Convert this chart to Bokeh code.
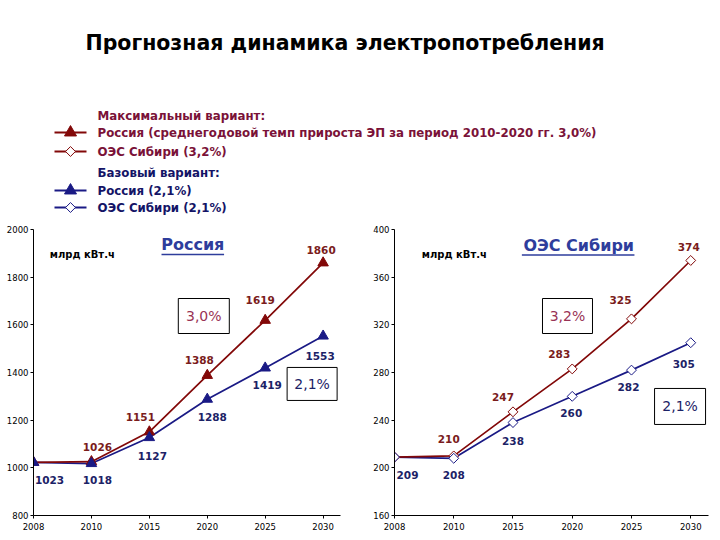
from bokeh.plotting import figure
from bokeh.models import Range1d, FixedTicker, ColumnDataSource
from bokeh.layouts import column, row
from bokeh.core.properties import value
from bokeh.embed import file_html
from bokeh.resources import INLINE

# ---------------- data ----------------
years = [2008, 2010, 2015, 2020, 2025, 2030]
rus_max = [1023, 1026, 1151, 1388, 1619, 1860]
rus_base = [1023, 1018, 1127, 1288, 1419, 1553]
sib_max = [209, 210, 247, 283, 325, 374]
sib_base = [209, 208, 238, 260, 282, 305]
rus_ticks = [800, 1000, 1200, 1400, 1600, 1800, 2000]
sib_ticks = [160, 200, 240, 280, 320, 360, 400]

title_text = "Прогнозная динамика электропотребления"
legend_max_head = "Максимальный вариант:"
legend_max_rus = "Россия (среднегодовой темп прироста ЭП за период 2010-2020 гг. 3,0%)"
legend_max_sib = "ОЭС Сибири (3,2%)"
legend_base_head = "Базовый вариант:"
legend_base_rus = "Россия (2,1%)"
legend_base_sib = "ОЭС Сибири (2,1%)"
unit_text = "млрд кВт.ч"
rus_title = "Россия"
sib_title = "ОЭС Сибири"
rus_max_rate = "3,0%"
rus_base_rate = "2,1%"
sib_max_rate = "3,2%"
sib_base_rate = "2,1%"

# ---------------- styles ----------------
RED = "#820808"
NAVY = "#1A1A85"
RED_TXT = "#7A1C1C"
NAVY_TXT = "#1C2266"
LEG_RED = "#7A1238"
LEG_NAVY = "#141466"
TITLE_BLUE = "#2E3D9C"
RATE_RED = "#993355"
FONT = value("DejaVu Sans")

# ---------------- header figure ----------------
top = figure(width=720, height=222, x_range=Range1d(0, 720), y_range=Range1d(222, 0),
             output_backend="svg", toolbar_location=None,
             x_axis_location=None, y_axis_location=None,
             min_border=0, outline_line_color=None)
top.grid.visible = False

top.text(x=[85], y=[42], text=[title_text], text_font=FONT, text_font_style="bold",
         text_font_size="20.5px", text_baseline="middle", text_align="left", text_color="black")

leg_text_x = 97
rows = [
    (115, legend_max_head, LEG_RED, None, None),
    (132, legend_max_rus, LEG_RED, "triangle", RED),
    (151, legend_max_sib, LEG_RED, "diamond", RED),
    (172, legend_base_head, LEG_NAVY, None, None),
    (190, legend_base_rus, LEG_NAVY, "triangle", NAVY),
    (207, legend_base_sib, LEG_NAVY, "diamond", NAVY),
]
for yy, txt, tcol, mk, lcol in rows:
    top.text(x=[leg_text_x], y=[yy], text=[txt], text_font=FONT, text_font_style="bold",
             text_font_size="11.8px", text_baseline="middle", text_align="left", text_color=tcol)
    if mk is not None:
        top.segment(x0=[54], y0=[yy], x1=[86], y1=[yy], line_color=lcol, line_width=2)
        if mk == "triangle":
            top.scatter(x=[70], y=[yy], marker="triangle", size=12, fill_color=lcol, line_color=lcol)
        else:
            top.scatter(x=[70], y=[yy], marker="square", angle=0.785, size=7,
                        fill_color="white", line_color=lcol, line_width=1)


def make_chart(width, border_left, border_right, xmax, ymin, ymax, ticks,
               s_max, s_base, marker, max_off, base_off,
               title, title_xy, underline, unit_xy, boxes):
    p = figure(width=width, height=318, x_range=Range1d(0, xmax), y_range=Range1d(ymin, ymax),
               output_backend="svg", toolbar_location=None,
               min_border_left=border_left, min_border_right=border_right,
               min_border_top=7, min_border_bottom=25, outline_line_color=None)
    p.grid.visible = False
    for ax in (p.xaxis[0], p.yaxis[0]):
        ax.axis_line_color = "black"
        ax.major_tick_line_color = "black"
        ax.major_tick_out = 3
        ax.major_tick_in = 0
        ax.minor_tick_line_color = None
        ax.major_label_text_font = "DejaVu Sans"
        ax.major_label_text_font_size = "8.5px"
        ax.major_label_text_color = "black"
        ax.major_label_standoff = 2
    p.xaxis[0].major_label_standoff = 4
    idx = list(range(len(years)))
    p.xaxis[0].ticker = FixedTicker(ticks=idx)
    p.xaxis[0].major_label_overrides = {i: str(y) for i, y in zip(idx, years)}
    p.yaxis[0].ticker = FixedTicker(ticks=ticks)

    p.line(idx, s_base, line_color=NAVY, line_width=1.7)
    p.line(idx, s_max, line_color=RED, line_width=1.7)
    if marker == "triangle":
        p.scatter(idx, s_max, marker="triangle", size=10.5, fill_color=RED, line_color=RED)
        p.scatter(idx, s_base, marker="triangle", size=10.5, fill_color=NAVY, line_color=NAVY)
    else:
        p.scatter(idx, s_max, marker="square", angle=0.785, size=7, fill_color="white",
                  line_color=RED, line_width=1)
        p.scatter(idx, s_base, marker="square", angle=0.785, size=7, fill_color="white",
                  line_color=NAVY, line_width=1)

    # value labels
    src_max = ColumnDataSource(dict(x=idx[1:], y=s_max[1:], t=[str(v) for v in s_max[1:]],
                                    dx=[o[0] for o in max_off], dy=[o[1] for o in max_off]))
    src_base = ColumnDataSource(dict(x=idx, y=s_base, t=[str(v) for v in s_base],
                                     dx=[o[0] for o in base_off], dy=[o[1] for o in base_off]))
    for src, col in ((src_max, RED_TXT), (src_base, NAVY_TXT)):
        p.text(x="x", y="y", text="t", x_offset="dx", y_offset="dy", source=src,
               text_font=FONT, text_font_style="bold", text_font_size="10.5px",
               text_color=col, text_align="center", text_baseline="middle")

    # chart title with underline
    p.text(x=[title_xy[0]], y=[title_xy[1]], text=[title], text_font=FONT, text_font_style="bold",
           text_font_size="16px", text_color=TITLE_BLUE, text_align="center", text_baseline="middle")
    p.segment(x0=[underline[0]], x1=[underline[1]], y0=[underline[2]], y1=[underline[2]],
              line_color=TITLE_BLUE, line_width=1.5)
    p.text(x=[unit_xy[0]], y=[unit_xy[1]], text=[unit_text], text_font=FONT, text_font_style="bold",
           text_font_size="10px", text_color="black", text_align="left", text_baseline="middle")

    # rate boxes
    for bx, by, bw, bh, txt, col in boxes:
        p.rect(x=[bx], y=[by], width=bw, height=bh, width_units="screen", height_units="screen",
               fill_color="white", line_color="black", line_width=1)
        p.text(x=[bx], y=[by], text=[txt], text_font=FONT, text_font_size="14px",
               text_color=col, text_align="center", text_baseline="middle")
    return p


left = make_chart(362, 33, 22, 5.3, 800, 2000, rus_ticks, rus_max, rus_base, "triangle",
                  max_off=[(6, -15), (-9, -15), (-8, -15), (-5, -20), (-2, -13)],
                  base_off=[(16, 18), (6, 16), (3, 18), (5, 18), (2, 17), (-3, 20)],
                  title=rus_title, title_xy=(2.75, 1935), underline=(2.21, 3.29, 1895),
                  unit_xy=(0.28, 1895),
                  boxes=[(2.94, 1637, 51, 35, rus_max_rate, RATE_RED),
                         (4.81, 1352, 50, 33, rus_base_rate, NAVY_TXT)])

right = make_chart(358, 32, 12, 5.3, 160, 400, sib_ticks, sib_max, sib_base, "diamond",
                   max_off=[(-5, -17), (-10, -15), (-13, -15), (-11, -19), (-2, -13)],
                   base_off=[(13, 18), (0, 17), (0, 18), (-1, 17), (-3, 17), (-7, 21)],
                   title=sib_title, title_xy=(3.11, 386.6), underline=(2.15, 4.05, 378.5),
                   unit_xy=(0.46, 379),
                   boxes=[(2.92, 327.4, 50, 35, sib_max_rate, RATE_RED),
                          (4.82, 251.5, 51, 36, sib_base_rate, NAVY_TXT)])

layout = column(top, row(left, right))
open("out.html", "w").write(file_html(layout, INLINE))
